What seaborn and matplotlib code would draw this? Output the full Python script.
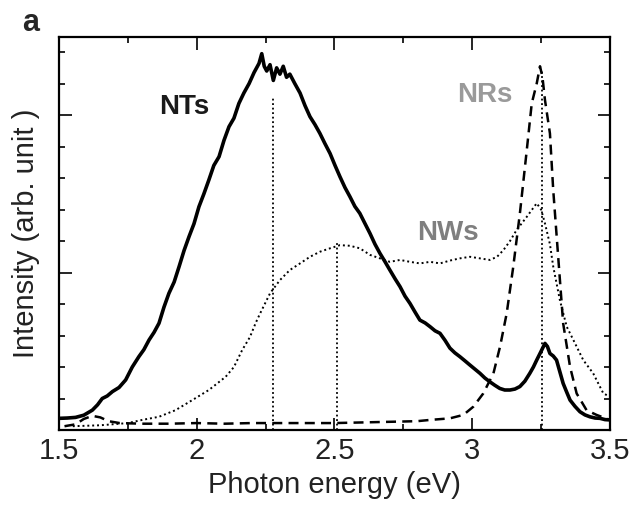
import matplotlib
matplotlib.use("Agg")
import matplotlib.pyplot as plt
from matplotlib.ticker import MultipleLocator, NullFormatter
import seaborn as sns

# photon energy (eV) / intensity (arb. unit)
nt_energy = [1.500, 1.530, 1.560, 1.590, 1.621, 1.640, 1.657, 1.675, 1.694, 1.718,
             1.742, 1.766, 1.790, 1.808, 1.827, 1.845, 1.863, 1.881, 1.899, 1.918,
             1.936, 1.954, 1.972, 1.990, 2.008, 2.026, 2.044, 2.062, 2.081, 2.099,
             2.117, 2.135, 2.153, 2.171, 2.190, 2.208, 2.226, 2.236, 2.245, 2.254,
             2.266, 2.278, 2.290, 2.302, 2.314, 2.326, 2.338, 2.356, 2.375, 2.393,
             2.411, 2.429, 2.447, 2.465, 2.484, 2.502, 2.520, 2.538, 2.556, 2.574,
             2.592, 2.611, 2.629, 2.647, 2.665, 2.683, 2.701, 2.720, 2.738, 2.756,
             2.774, 2.792, 2.810, 2.829, 2.847, 2.865, 2.883, 2.901, 2.919, 2.937,
             2.955, 2.973, 2.992, 3.010, 3.028, 3.046, 3.064, 3.082, 3.100, 3.118,
             3.137, 3.155, 3.173, 3.191, 3.209, 3.222, 3.234, 3.250, 3.264, 3.273,
             3.282, 3.294, 3.306, 3.318, 3.330, 3.343, 3.355, 3.373, 3.391, 3.409,
             3.427, 3.446, 3.464, 3.482, 3.500]
nt_intensity = [0.37, 0.38, 0.40, 0.47, 0.63, 0.80, 1.00, 1.08, 1.22, 1.35,
                1.59, 2.00, 2.33, 2.55, 2.86, 3.10, 3.39, 3.90, 4.34, 4.70,
                5.19, 5.70, 6.14, 6.55, 7.09, 7.50, 7.94, 8.40, 8.68, 9.20,
                9.63, 9.90, 10.37, 10.70, 11.00, 11.35, 11.64, 11.95, 11.55, 11.40,
                11.60, 11.10, 11.50, 11.30, 11.55, 11.20, 11.30, 11.00, 10.70, 10.30,
                9.95, 9.70, 9.42, 9.10, 8.78, 8.40, 8.04, 7.70, 7.41, 7.10,
                6.88, 6.55, 6.24, 5.90, 5.61, 5.35, 5.08, 4.80, 4.55, 4.25,
                4.02, 3.75, 3.49, 3.40, 3.28, 3.15, 3.07, 2.85, 2.60, 2.45,
                2.33, 2.20, 2.06, 1.93, 1.80, 1.65, 1.53, 1.42, 1.32, 1.27,
                1.27, 1.30, 1.38, 1.55, 1.80, 2.00, 2.22, 2.50, 2.75, 2.65,
                2.43, 2.35, 2.22, 1.85, 1.48, 1.20, 0.95, 0.75, 0.58, 0.48,
                0.42, 0.38, 0.37, 0.33, 0.32]

nr_energy = [1.520, 1.560, 1.590, 1.621, 1.650, 1.680, 1.720, 1.800, 1.900, 2.000,
             2.100, 2.200, 2.300, 2.400, 2.500, 2.600, 2.700, 2.800, 2.847, 2.919,
             2.968, 3.004, 3.040, 3.077, 3.101, 3.125, 3.149, 3.173, 3.198, 3.216,
             3.234, 3.246, 3.255, 3.264, 3.282, 3.294, 3.312, 3.330, 3.355, 3.379,
             3.415, 3.451, 3.500]
nr_intensity = [0.12, 0.18, 0.35, 0.45, 0.40, 0.28, 0.22, 0.20, 0.20, 0.22,
                0.20, 0.22, 0.22, 0.22, 0.22, 0.24, 0.26, 0.28, 0.32, 0.37,
                0.48, 0.74, 1.16, 1.80, 2.65, 3.70, 5.19, 6.88, 8.89, 10.37,
                11.00, 11.55, 11.20, 10.48, 9.42, 7.62, 5.50, 3.39, 2.01, 1.16,
                0.63, 0.48, 0.32]

nw_energy = [1.550, 1.650, 1.750, 1.802, 1.863, 1.923, 1.984, 2.044, 2.105, 2.135,
             2.165, 2.193, 2.214, 2.230, 2.266, 2.302, 2.338, 2.375, 2.411, 2.447,
             2.484, 2.520, 2.556, 2.592, 2.629, 2.665, 2.701, 2.738, 2.774, 2.810,
             2.847, 2.883, 2.919, 2.955, 2.992, 3.028, 3.064, 3.090, 3.113, 3.137,
             3.161, 3.198, 3.234, 3.250, 3.264, 3.282, 3.294, 3.318, 3.343, 3.367,
             3.403, 3.439, 3.476, 3.500]
nw_intensity = [0.12, 0.15, 0.22, 0.32, 0.42, 0.63, 0.95, 1.27, 1.69, 2.00,
                2.54, 2.95, 3.40, 3.70, 4.34, 4.76, 5.08, 5.29, 5.50, 5.66,
                5.77, 5.87, 5.85, 5.77, 5.56, 5.45, 5.34, 5.40, 5.34, 5.29,
                5.34, 5.29, 5.38, 5.45, 5.50, 5.45, 5.40, 5.50, 5.71, 6.00,
                6.35, 6.77, 7.20, 7.00, 6.56, 5.90, 5.19, 4.13, 3.28, 2.86,
                2.22, 1.80, 1.16, 1.06]

# peak markers (dotted drop lines)
peak_energy = [2.278, 2.510, 3.252]
peak_top = [10.6, 5.95, 11.45]

x_ticks = [1.5, 2.0, 2.5, 3.0, 3.5]
x_ticklabels = ["1.5", "2", "2.5", "3", "3.5"]

sns.set_style("ticks")
plt.rcParams['font.family'] = ['Liberation Sans', 'DejaVu Sans']

fig = plt.figure(figsize=(6.35, 5.13), dpi=100)
ax = fig.add_axes([0.0929, 0.1618, 0.8677, 0.7661])

sns.lineplot(x=nw_energy, y=nw_intensity, ax=ax, color='black', lw=1.4,
             linestyle=(0, (1, 1.5)), sort=False)
sns.lineplot(x=nr_energy, y=nr_intensity, ax=ax, color='black', lw=1.8,
             linestyle=(0, (4, 2.5)), sort=False)
sns.lineplot(x=nt_energy, y=nt_intensity, ax=ax, color='black', lw=2.6, sort=False)
ax.vlines(peak_energy, 0, peak_top, colors='black', linestyles=(0, (1, 1.5)), lw=1.3)

ax.text(1.954, 10.25, "NTs", ha='center', va='center', fontsize=20,
        fontweight='bold', color='#1a1a1a')
ax.text(3.046, 10.63, "NRs", ha='center', va='center', fontsize=20,
        fontweight='bold', color='#9a9a9a')
ax.text(2.912, 6.25, "NWs", ha='center', va='center', fontsize=20,
        fontweight='bold', color='#7f7f7f')

ax.set_xlim(1.5, 3.5)
ax.set_ylim(0, 12.48)
ax.set_xticks(x_ticks, x_ticklabels)
ax.xaxis.set_minor_locator(MultipleLocator(0.25))
ax.yaxis.set_major_locator(MultipleLocator(5))
ax.yaxis.set_minor_locator(MultipleLocator(1))
ax.yaxis.set_major_formatter(NullFormatter())
ax.tick_params(which='both', direction='in', top=True, right=True, color='black',
               width=1.2)
ax.tick_params(which='major', length=9, labelsize=21, pad=5, labelcolor='#222222')
ax.tick_params(which='minor', length=4.5)
for s in ax.spines.values():
    s.set_linewidth(1.6)
    s.set_color('black')

ax.set_xlabel("Photon energy (eV)", fontsize=21, color='#222222')
ax.set_ylabel("Intensity (arb. unit )", fontsize=21, color='#222222')
ax.xaxis.set_label_coords(0.5, -0.105)
ax.yaxis.set_label_coords(-0.034, 0.5)

fig.text(0.049, 0.955, "a", ha='center', va='center', fontsize=22, fontweight='bold')

fig.savefig("out.png", dpi=100)
